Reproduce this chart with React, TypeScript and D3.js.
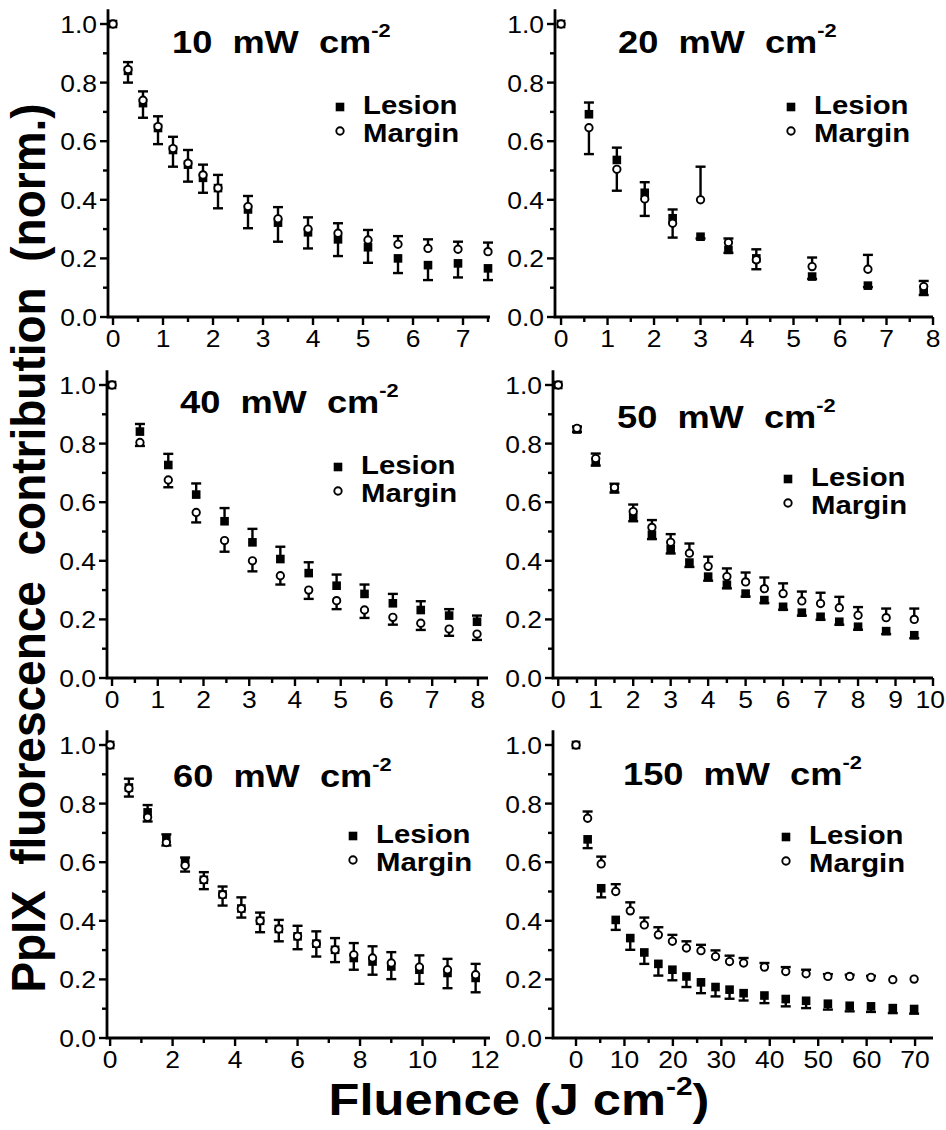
import React from 'react';
import * as d3 from 'd3';

const FONT = '"Liberation Sans", Arial, Helvetica, sans-serif';
const SX = 1.15; // horizontal stretch of the original lettering
const SXT = 1.08; // stretch of tick labels

// ---------- DATA ----------
// 10 mW cm-2
const x10 = [0, 0.3, 0.6, 0.9, 1.2, 1.5, 1.8, 2.1, 2.7, 3.3, 3.9, 4.5, 5.1, 5.7, 6.3, 6.9, 7.5];
const les10 = [1, 0.84, 0.73, 0.645, 0.57, 0.52, 0.475, 0.44, 0.367, 0.322, 0.289, 0.265, 0.238, 0.2, 0.177, 0.183, 0.166];
const lesErr10 = [0, 0.03, 0.04, 0.04, 0.045, 0.05, 0.045, 0.045, -0.064, -0.065, -0.055, -0.057, -0.053, -0.05, -0.051, -0.048, -0.04];
const mar10 = [1, 0.845, 0.74, 0.65, 0.575, 0.525, 0.485, 0.44, 0.377, 0.335, 0.3, 0.286, 0.263, 0.248, 0.234, 0.231, 0.223];
const marErr10 = [0, -0.045, -0.06, -0.06, -0.062, -0.063, -0.061, -0.069, 0.036, 0.04, 0.04, 0.034, 0.034, 0.028, 0.031, 0.026, 0.031];

// 20 mW cm-2
const x20 = [0, 0.6, 1.2, 1.8, 2.4, 3.0, 3.6, 4.2, 5.4, 6.6, 7.8];
const les20 = [1, 0.692, 0.536, 0.424, 0.337, 0.274, 0.229, 0.2, 0.138, 0.107, 0.092];
const lesErr20 = [0, 0.04, 0.042, 0.036, 0.03, -0.006, -0.01, 0.031, -0.008, -0.005, -0.017];
const mar20 = [1, 0.646, 0.504, 0.403, 0.32, 0.4, 0.254, 0.195, 0.172, 0.163, 0.104];
const marErr20 = [0, -0.09, -0.073, -0.058, -0.049, 0.113, 0.014, -0.032, 0.031, 0.049, 0.019];

// 40 mW cm-2
const x40 = [0, 0.61, 1.23, 1.84, 2.46, 3.07, 3.68, 4.3, 4.91, 5.52, 6.14, 6.75, 7.37, 7.98];
const les40 = [1, 0.841, 0.727, 0.626, 0.535, 0.463, 0.406, 0.358, 0.315, 0.287, 0.255, 0.232, 0.213, 0.192];
const lesErr40 = [0, 0.026, 0.038, 0.038, 0.045, 0.046, 0.042, 0.037, 0.038, 0.032, 0.032, 0.03, 0.022, 0.021];
const mar40 = [1, 0.804, 0.676, 0.565, 0.469, 0.4, 0.349, 0.3, 0.264, 0.232, 0.207, 0.187, 0.167, 0.15];
const marErr40 = [0, -0.012, -0.025, -0.034, -0.038, -0.036, -0.03, -0.03, -0.029, -0.027, -0.025, -0.023, -0.023, -0.02];

// 50 mW cm-2
const x50 = [0, 0.5, 1.0, 1.5, 2.0, 2.5, 3.0, 3.5, 4.0, 4.5, 5.0, 5.5, 6.0, 6.5, 7.0, 7.5, 8.0, 8.75, 9.5];
const les50 = [1, 0.848, 0.737, 0.645, 0.549, 0.489, 0.44, 0.394, 0.346, 0.318, 0.288, 0.266, 0.243, 0.223, 0.209, 0.192, 0.175, 0.16, 0.146];
const lesErr50 = [0, -0.008, -0.012, -0.012, -0.014, -0.015, -0.015, -0.015, -0.014, -0.012, -0.01, -0.01, -0.01, -0.01, -0.01, -0.01, -0.01, -0.01, -0.01];
const mar50 = [1, 0.852, 0.749, 0.65, 0.568, 0.514, 0.463, 0.426, 0.381, 0.346, 0.328, 0.305, 0.288, 0.263, 0.254, 0.24, 0.214, 0.206, 0.2];
const marErr50 = [0, 0.006, 0.017, 0.013, 0.024, 0.025, 0.028, 0.033, 0.033, 0.028, 0.032, 0.038, 0.035, 0.032, 0.037, 0.037, 0.028, 0.031, 0.037];

// 60 mW cm-2
const x60 = [0, 0.6, 1.2, 1.8, 2.4, 3.0, 3.6, 4.2, 4.8, 5.4, 6.0, 6.6, 7.2, 7.8, 8.4, 9.0, 9.9, 10.8, 11.7];
const les60 = [1, 0.855, 0.77, 0.68, 0.6, 0.54, 0.49, 0.442, 0.4, 0.372, 0.347, 0.322, 0.301, 0.273, 0.261, 0.244, 0.233, 0.222, 0.205];
const lesErr60 = [0, 0.03, 0.025, 0.015, 0.016, 0.026, 0.027, 0.038, 0.028, 0.031, 0.036, 0.042, 0.04, -0.04, -0.045, -0.043, -0.048, -0.052, -0.049];
const mar60 = [1, 0.852, 0.753, 0.667, 0.589, 0.54, 0.489, 0.441, 0.4, 0.372, 0.347, 0.322, 0.301, 0.284, 0.273, 0.256, 0.242, 0.233, 0.216];
const marErr60 = [0, -0.028, -0.014, -0.01, -0.021, -0.032, -0.037, -0.03, -0.039, -0.042, -0.044, -0.044, -0.042, 0.04, 0.04, 0.037, 0.04, 0.037, 0.037];

// 150 mW cm-2
const x150 = [0, 2.4, 5.2, 8.2, 11.2, 14.1, 17.0, 19.9, 22.8, 25.8, 28.8, 31.7, 34.6, 38.9, 43.3, 47.5, 52.0, 56.5, 60.9, 65.4, 69.8];
const les150 = [1, 0.678, 0.511, 0.403, 0.341, 0.292, 0.253, 0.233, 0.21, 0.19, 0.174, 0.165, 0.153, 0.145, 0.133, 0.127, 0.117, 0.11, 0.108, 0.102, 0.099];
const lesErr150 = [0, -0.03, -0.031, -0.034, -0.04, -0.039, -0.04, -0.036, -0.036, -0.037, -0.032, -0.031, -0.025, -0.026, -0.025, -0.025, -0.02, -0.019, -0.019, -0.017, -0.016];
const mar150 = [1, 0.75, 0.594, 0.5, 0.434, 0.386, 0.352, 0.33, 0.307, 0.298, 0.278, 0.261, 0.256, 0.242, 0.227, 0.219, 0.21, 0.21, 0.207, 0.199, 0.201];
const marErr150 = [0, 0.023, 0.025, 0.025, 0.029, 0.025, 0.026, 0.022, 0.023, 0.02, 0.021, 0.02, 0.017, 0.014, 0.015, 0.014, 0.008, 0.006, 0.005, 0, 0];

// ---------- TICKS ----------
const yTicks = [0, 0.2, 0.4, 0.6, 0.8, 1.0];
const yTickLabels = ['0.0', '0.2', '0.4', '0.6', '0.8', '1.0'];
const yMinor = [0.1, 0.3, 0.5, 0.7, 0.9];
const xTicks10 = [0, 1, 2, 3, 4, 5, 6, 7];
const xTicks20 = [0, 1, 2, 3, 4, 5, 6, 7, 8];
const xTicks40 = [0, 1, 2, 3, 4, 5, 6, 7, 8];
const xTicks50 = [0, 1, 2, 3, 4, 5, 6, 7, 8, 9, 10];
const xTicks60 = [0, 2, 4, 6, 8, 10, 12];
const xTicks150 = [0, 10, 20, 30, 40, 50, 60, 70];
const titles = ['10', '20', '40', '50', '60', '150'];
const legendLabels = ['Lesion', 'Margin'];

// ---------- LAYOUT ----------
const W = 946;
const PH = 293; // pixel height of 1.0
const panels = [
  { title: titles[0], fl: x10, les: les10, lesE: lesErr10, mar: mar10, marE: marErr10, ticks: xTicks10, minorStep: 0.5, dom: [-0.1, 7.54], range: [108, 490], base: 317, tdx: 64, tdy: -264, ldx: 232, ldy: -210 },
  { title: titles[1], fl: x20, les: les20, lesE: lesErr20, mar: mar20, marE: marErr20, ticks: xTicks20, minorStep: 0.5, dom: [-0.13, 8.0], range: [555, 933], base: 317, tdx: 63, tdy: -264, ldx: 236, ldy: -210 },
  { title: titles[2], fl: x40, les: les40, lesE: lesErr40, mar: mar40, marE: marErr40, ticks: xTicks40, minorStep: 0.5, dom: [-0.11, 8.22], range: [107, 488], base: 678, tdx: 73, tdy: -265, ldx: 231, ldy: -211 },
  { title: titles[3], fl: x50, les: les50, lesE: lesErr50, mar: mar50, marE: marErr50, ticks: xTicks50, minorStep: 0.5, dom: [-0.14, 10.0], range: [553, 933], base: 678, tdx: 64, tdy: -250, ldx: 235, ldy: -199 },
  { title: titles[4], fl: x60, les: les60, lesE: lesErr60, mar: mar60, marE: marErr60, ticks: xTicks60, minorStep: 1, dom: [-0.1, 12.16], range: [107, 490], base: 1038, tdx: 66, tdy: -251, ldx: 246, ldy: -202 },
  { title: titles[5], fl: x150, les: les150, lesE: lesErr150, mar: mar150, marE: marErr150, ticks: xTicks150, minorStep: 5, dom: [-4.75, 73.7], range: [553, 933], base: 1038, tdx: 70, tdy: -253, ldx: 233, ldy: -201 },
];

function SText({ x, y, anchor = 'start', size, weight = 'normal', sx = SX, children }: any) {
  return (
    <g transform={`translate(${x},${y}) scale(${sx},1)`}>
      <text x={0} y={0} textAnchor={anchor} fontSize={size} fontWeight={weight}
        fontFamily={FONT} fill="#000" style={{ whiteSpace: 'pre' }}>{children}</text>
    </g>
  );
}

function Panel({ p }: any) {
  const x = d3.scaleLinear().domain(p.dom).range(p.range);
  const y = d3.scaleLinear().domain([0, 1]).range([p.base, p.base - PH]);
  const x0 = p.range[0];
  const x1 = p.range[1];
  const yTop = y(1.05);
  const minor = d3.range(p.minorStep, p.dom[1] + 1e-6, p.minorStep)
    .filter((v: number) => !p.ticks.some((t: number) => Math.abs(t - v) < 1e-6));
  const sq = 8.6;
  const cap = 5;
  const tickFont = 24.5;
  const bars = (vals: number[], errs: number[], key: string) =>
    vals.map((v, i) => {
      const e = errs[i];
      if (!e) return null;
      const xi = x(p.fl[i]);
      const ye = y(v + e);
      return (
        <g key={key + i} stroke="#000" strokeWidth={2.4}>
          <line x1={xi} x2={xi} y1={y(v)} y2={ye} />
          <line x1={xi - cap} x2={xi + cap} y1={ye} y2={ye} />
        </g>
      );
    });
  const lx = x0 + p.ldx;
  const ly = p.base + p.ldy;
  return (
    <g>
      {/* axes */}
      <path d={`M${x0},${yTop}V${p.base}H${x1}`} fill="none" stroke="#000" strokeWidth={2.8} />
      {yTicks.map((t, i) => (
        <g key={'yt' + i}>
          <line x1={x0} x2={x0 - 8} y1={y(t)} y2={y(t)} stroke="#000" strokeWidth={2.4} />
          <SText x={x0 - 11} y={y(t) + 9} anchor="end" size={tickFont} sx={SXT}>{yTickLabels[i]}</SText>
        </g>
      ))}
      {yMinor.map((t, i) => (
        <line key={'ym' + i} x1={x0} x2={x0 - 5} y1={y(t)} y2={y(t)} stroke="#000" strokeWidth={2.4} />
      ))}
      {p.ticks.map((t: number, i: number) => {
        const label = String(t);
        const half = label.length * 0.556 * tickFont * SXT / 2;
        const lxPos = Math.min(x(t), W - half - 1);
        return (
          <g key={'xt' + i}>
            <line x1={x(t)} x2={x(t)} y1={p.base} y2={p.base + 8} stroke="#000" strokeWidth={2.4} />
            <SText x={lxPos} y={p.base + 30} anchor="middle" size={tickFont} sx={SXT}>{label}</SText>
          </g>
        );
      })}
      {minor.map((t: number, i: number) => (
        <line key={'xm' + i} x1={x(t)} x2={x(t)} y1={p.base} y2={p.base + 5} stroke="#000" strokeWidth={2.4} />
      ))}
      {/* error bars */}
      {bars(p.les, p.lesE, 'le')}
      {bars(p.mar, p.marE, 'me')}
      {/* lesion squares */}
      {p.les.map((v: number, i: number) => (
        <rect key={'ls' + i} x={x(p.fl[i]) - sq / 2} y={y(v) - sq / 2} width={sq} height={sq} fill="#000" />
      ))}
      {/* margin circles */}
      {p.mar.map((v: number, i: number) => (
        <circle key={'mc' + i} cx={x(p.fl[i])} cy={y(v)} r={3.7} fill="#fff" stroke="#000" strokeWidth={1.9} />
      ))}
      {/* title */}
      <g transform={`translate(${x0 + p.tdx},${p.base + p.tdy}) scale(${SX},1)`}>
        <text x={0} y={0} fontSize={31.5} fontWeight="bold" fontFamily={FONT} style={{ whiteSpace: 'pre' }}>
          {p.title + '  mW  cm'}
          <tspan fontSize={19} dy={-16}>-2</tspan>
        </text>
      </g>
      {/* legend */}
      <rect x={lx - sq / 2} y={ly - sq / 2} width={sq} height={sq} fill="#000" />
      <circle cx={lx} cy={ly + 24} r={3.7} fill="#fff" stroke="#000" strokeWidth={1.9} />
      <SText x={lx + 23} y={ly + 7} size={25.5} weight="bold">{legendLabels[0]}</SText>
      <SText x={lx + 23} y={ly + 35} size={25.5} weight="bold">{legendLabels[1]}</SText>
    </g>
  );
}

export default function App() {
  return (
    <svg width={946} height={1130} viewBox="0 0 946 1130"
      style={{ position: 'absolute', left: 0, top: 0, background: '#fff' }}>
      <rect x={0} y={0} width={946} height={1130} fill="#fff" />
      {panels.map((p, i) => <Panel key={i} p={p} />)}
      <g transform={`translate(45,548) scale(1.05,1) rotate(-90)`}>
        <text x={0} y={0} textAnchor="middle" fontSize={46} fontWeight="bold" fontFamily={FONT}
          style={{ whiteSpace: 'pre' }}>PpIX  fluorescence  contribution  (norm.)</text>
      </g>
      <g transform={`translate(519,1115) scale(${SX},1)`}>
        <text x={0} y={0} textAnchor="middle" fontSize={44} fontWeight="bold" fontFamily={FONT}
          style={{ whiteSpace: 'pre' }}>
          Fluence (J cm<tspan fontSize={26} dy={-20}>-2</tspan><tspan dy={20}>)</tspan>
        </text>
      </g>
    </svg>
  );
}
